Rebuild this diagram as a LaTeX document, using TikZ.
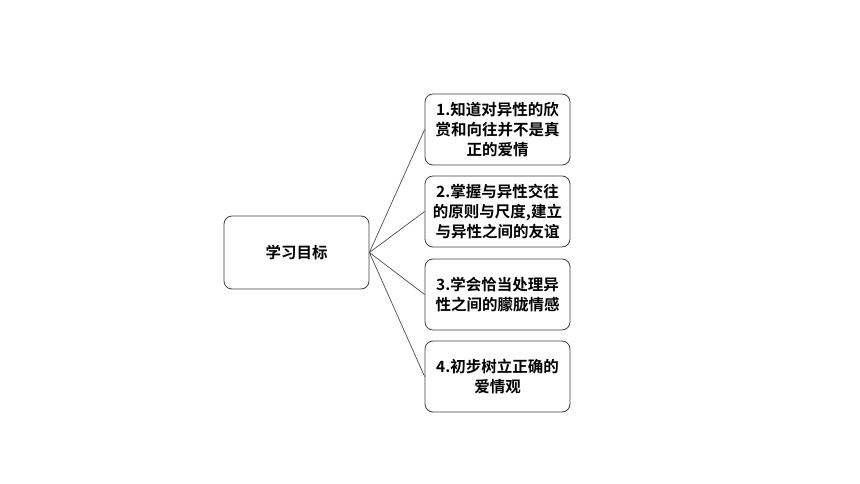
\documentclass[tikz,border=0pt]{standalone}
\usepackage{fontspec}
\newfontfamily\cjk{Noto Sans CJK SC}[BoldFont={Noto Sans CJK SC Bold}]
\begin{document}
\begin{tikzpicture}[x=1pt,y=-1pt,
  box/.style={draw=black!75,line width=0.8pt,rounded corners=8pt,fill=white,
    minimum width=145pt,inner sep=0pt,align=center,
    font=\cjk\bfseries\fontsize{15.5}{20}\selectfont},
  link/.style={draw=black!70,line width=0.7pt}]
\useasboundingbox (0,0) rectangle (860,484);
\node[box,minimum height=73pt] (goal) at (296.5,252.5) {学习目标};
\node[box,minimum height=71pt] (g1) at (497.5,129.5) {1.知道对异性的欣\\赏和向往并不是真\\正的爱情};
\node[box,minimum height=71pt] (g2) at (497.5,211.5) {2.掌握与异性交往\\的原则与尺度,建立\\与异性之间的友谊};
\node[box,minimum height=71pt] (g3) at (497.5,294.5) {3.学会恰当处理异\\性之间的朦胧情感};
\node[box,minimum height=71pt] (g4) at (497.5,376.5) {4.初步树立正确的\\爱情观};
\foreach \n in {g1,g2,g3,g4} \draw[link] (goal.east) -- (\n.west);
\end{tikzpicture}
\end{document}
